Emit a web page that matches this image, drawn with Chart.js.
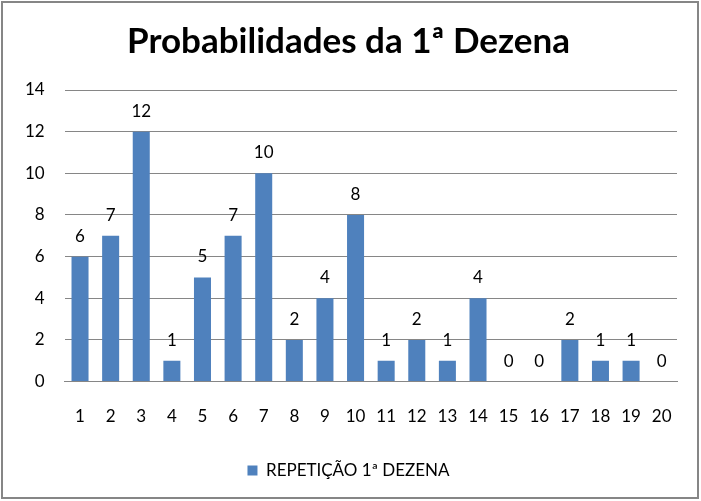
<!DOCTYPE html>
<html><head><meta charset="utf-8">
<script src="https://cdn.jsdelivr.net/npm/chart.js@4"></script>
<style>html,body{margin:0;padding:0;background:#fff}#wrap{width:701px;height:501px;position:relative}</style>
</head><body><div id="wrap"><canvas id="c" width="701" height="501"></canvas></div>
<script>
const categories = ["1","2","3","4","5","6","7","8","9","10","11","12","13","14","15","16","17","18","19","20"];
const seriesName = "REPETIÇÃO 1ª DEZENA";
const values = [6,7,12,1,5,7,10,2,4,8,1,2,1,4,0,0,2,1,1,0];
const titleText = "Probabilidades da 1ª Dezena";

const frame = {
  id:'frame',
  beforeDraw(chart){
    const ctx=chart.ctx;ctx.save();ctx.fillStyle='#fff';ctx.fillRect(0,0,chart.width,chart.height);ctx.restore();
  },
  afterDraw(chart){
    const ctx=chart.ctx;ctx.save();ctx.strokeStyle='#868686';ctx.lineWidth=2;ctx.strokeRect(2,2,chart.width-5,chart.height-5);ctx.restore();
  }
};
const labels = {
  id:'labels',
  afterDatasetsDraw(chart){
    const ctx=chart.ctx;const meta=chart.getDatasetMeta(0);
    ctx.save();ctx.font='17px Lato';ctx.fillStyle='#000';ctx.textAlign='center';ctx.textBaseline='alphabetic';
    meta.data.forEach((el,i)=>{ctx.fillText(String(values[i]),el.x,el.y-15);});
    ctx.restore();
  }
};
new Chart(document.getElementById('c'),{
  type:'bar',
  data:{labels:categories,datasets:[{label:seriesName,data:values,backgroundColor:'#4F81BD',borderWidth:0,barPercentage:0.556,categoryPercentage:1}]},
  options:{
    responsive:false,animation:false,
    layout:{padding:{left:20,right:24,top:12,bottom:12}},
    plugins:{
      title:{display:true,text:titleText,color:'#000',font:{family:'Lato',size:35,weight:'bold'},padding:{top:9,bottom:27}},
      legend:{position:'bottom',labels:{color:'#000',font:{family:'Lato',size:17},boxWidth:10,boxHeight:10,padding:10},},
      tooltip:{enabled:false}
    },
    scales:{
      y:{min:0,max:14,ticks:{stepSize:2,color:'#000',font:{family:'Lato',size:17},padding:20},grid:{color:'#868686',drawTicks:false},border:{display:false},
         afterFit(s){s.width-=15;}},
      x:{ticks:{color:'#000',font:{family:'Lato',size:17},padding:17,maxRotation:0,autoSkip:false},grid:{display:false},border:{display:true,color:'#868686'},
         afterFit(s){s.height+=8;}}
    }
  },
  plugins:[frame,labels]
});
</script></body></html>
